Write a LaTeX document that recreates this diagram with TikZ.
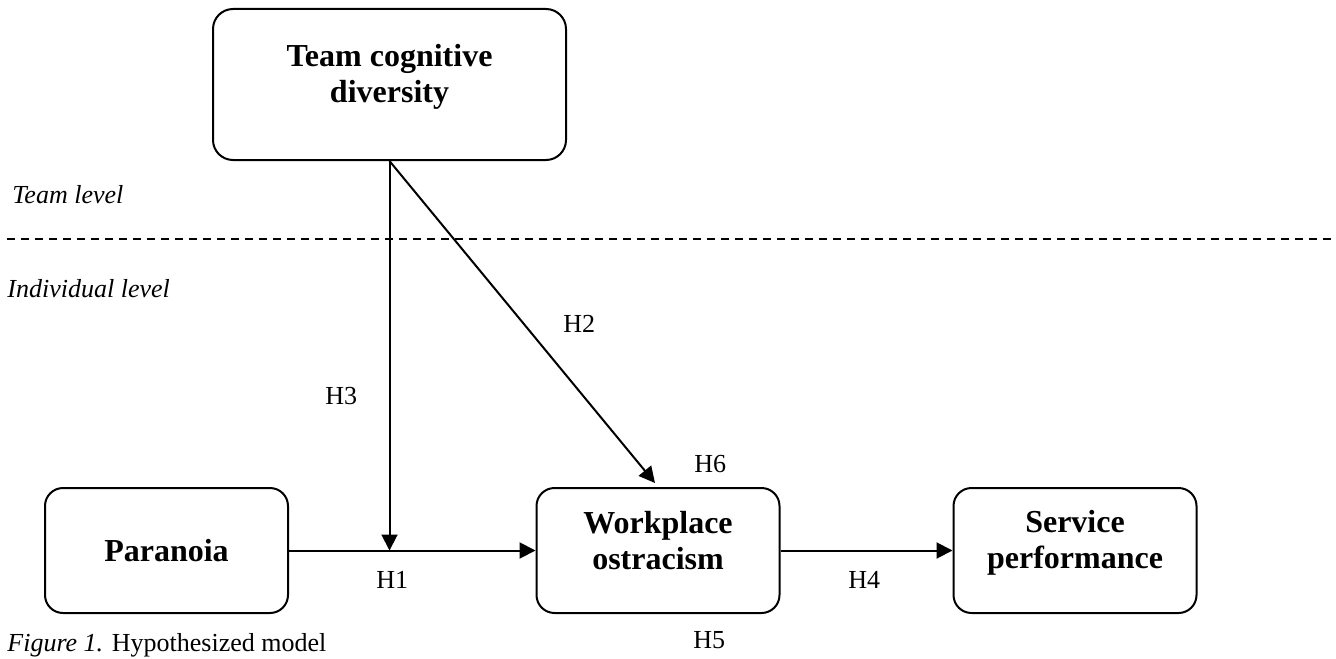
\documentclass[tikz,border=0pt]{standalone}
\usepackage{fontspec}
\setmainfont{Liberation Serif}
\usetikzlibrary{arrows.meta}

\tikzset{
  box/.style={draw, line width=1pt, rounded corners=9pt, minimum width=121.5pt, minimum height=62.5pt},
  boxtext/.style={align=center, font=\fontsize{16}{18}\selectfont\bfseries},
  hyp/.style={anchor=base west, inner sep=0pt, font=\fontsize{13}{15}\selectfont},
  link/.style={line width=1pt, -{Triangle[length=8pt,width=8pt]}}
}

\begin{document}
\begin{tikzpicture}[x=0.5pt, y=-0.5pt]
        \useasboundingbox (0,0) rectangle (1336,658);

        % Team level construct
        \node[box, minimum width=176.5pt, minimum height=75.5pt, rounded corners=10pt] (tcd) at (389.5,84.5) {};
        \node[boxtext] (tcdT) at (389.5,76.7) {Team cognitive\\diversity};

        % Level separator
        \draw[line width=0.8pt, dash pattern=on 4pt off 3pt] (7,239) -- (1336,239);
        \node[hyp, font=\fontsize{13}{15}\selectfont\itshape] (teamlvl) at (12,203) {Team level};
        \node[hyp, font=\fontsize{13}{15}\selectfont\itshape] (indlvl) at (7,297) {Individual level};

        % Individual level constructs
        \node[box] (para) at (166.5,550.5) {};
        \node[boxtext] (paraT) at (166.5,551) {Paranoia};

        \node[box] (work) at (658,550.5) {};
        \node[boxtext] (workT) at (658,541) {Workplace\\ostracism};

        \node[box] (serv) at (1075,550.5) {};
        \node[boxtext] (servT) at (1075,542.7) {Service\\performance};

        % Paths
        \coordinate (h2tip) at (655,483);
        \draw[link] (tcd.south) -- (tcd.south |- para.east); % moderation
        \draw[link] (tcd.south) -- (h2tip);
        \draw[link] (para.east) -- (work.west);
        \draw[link] (work.east) -- (serv.west);

        % Hypothesis labels
        \node[hyp] (h1) at (376,588) {H1};
        \node[hyp] (h2) at (563,332) {H2};
        \node[hyp] (h3) at (325,404) {H3};
        \node[hyp] (h4) at (848,588) {H4};
        \node[hyp] (h5) at (693,648) {H5};
        \node[hyp] (h6) at (694,472) {H6};

        % Caption
        \node[hyp] (caption) at (7,651) {\textit{Figure 1.} Hypothesized model};
\end{tikzpicture}
\end{document}
